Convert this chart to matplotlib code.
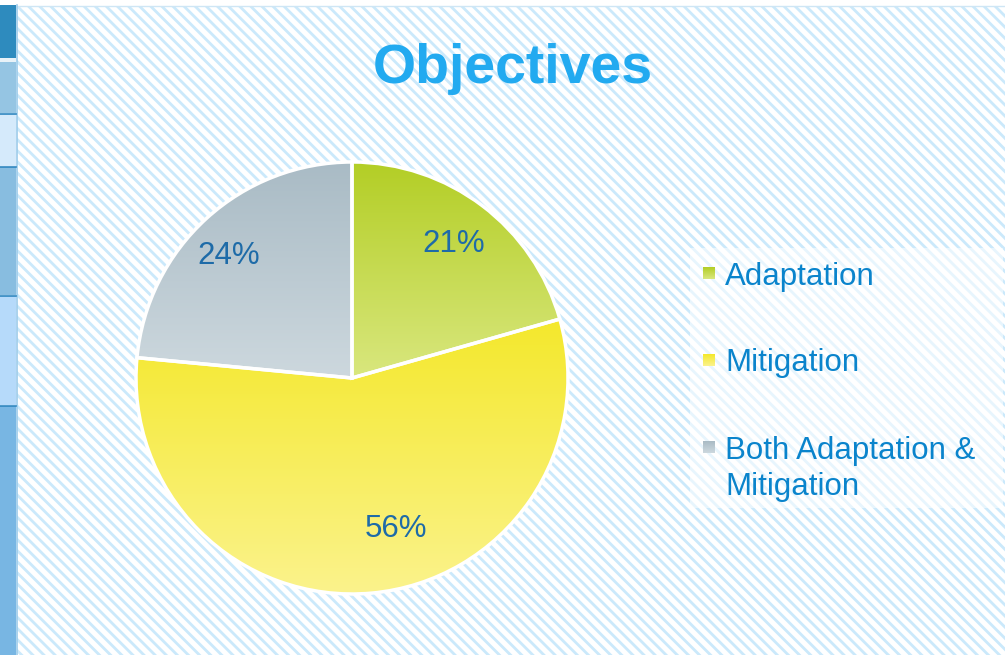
import numpy as np
import matplotlib
matplotlib.use("Agg")
import matplotlib.pyplot as plt
from matplotlib.patches import Rectangle
from matplotlib.colors import to_rgb

plt.rcParams['font.family'] = ['Liberation Sans', 'DejaVu Sans']
plt.rcParams['hatch.linewidth'] = 2.0

# data
categories = ["Adaptation", "Mitigation", "Both Adaptation &\nMitigation"]
shares = [20.6, 55.9, 23.5]
pct_labels = ["21%", "56%", "24%"]
grad_top = ["#B3CE25", "#F4E82C", "#A9BBC5"]
grad_bottom = ["#D9E77E", "#FBF38C", "#CDD8DE"]

W, H = 1005, 655
fig = plt.figure(figsize=(W / 100, H / 100), dpi=100)
fig.patch.set_facecolor("white")

# background layer in pixel coords
bg = fig.add_axes([0, 0, 1, 1], zorder=0)
bg.set_xlim(0, W)
bg.set_ylim(H, 0)
bg.axis("off")

bg.add_patch(Rectangle((17, 6), W - 17, H - 6, facecolor="white",
                       edgecolor="#CBE9FB", hatch="\\\\\\", linewidth=0))
bg.plot([17, W], [5.5, 5.5], color="#CFE6F5", lw=1)
bg.plot([16.5, 16.5], [5, H], color="#9CCBEA", lw=1.2)

# left strip
strip = [(5, 58, "#2E8BBE"), (58, 62, "#E8F2F8"), (62, 113, "#95C5E3"),
         (114, 166, "#D5EAFB"), (167, 295, "#88BDE0"), (296, 405, "#B6DAFA"),
         (406, 655, "#78B6E3")]
for y0, y1, c in strip:
    bg.add_patch(Rectangle((0, y0), 16, y1 - y0, facecolor=c, linewidth=0))
for yl in [113.5, 166.5, 295.5, 405.5]:
    bg.plot([0, 16], [yl, yl], color="#2E86C0", lw=1.2)

# legend box + entries
bg.add_patch(Rectangle((690, 248), 313, 260, facecolor="white", alpha=0.55, linewidth=0))
leg_y = [273, 360, 447]
for i, lab in enumerate(categories):
    y = leg_y[i]
    grad = np.linspace(to_rgb(grad_top[i]), to_rgb(grad_bottom[i]), 32)[:, None, :]
    bg.imshow(grad, extent=[703, 715, y + 6, y - 6], aspect="auto", zorder=3)
    lines = lab.split("\n")
    for k, line in enumerate(lines):
        bg.text(725, y + 36 * k, line, fontsize=22.5, color="#0A84CC",
                va="center_baseline", ha="left")
bg.set_xlim(0, W)
bg.set_ylim(H, 0)

# title
fig.text(513 / W, 1 - 63 / H, "Objectives", fontsize=40, fontweight="bold",
         color="#22AAF0", ha="center", va="center_baseline")

# pie
cx, cy, r = 352, 378, 216
half = 1.05 * r
ax = fig.add_axes([(cx - half) / W, (H - cy - half) / H, 2 * half / W, 2 * half / H], zorder=2)
wedges, texts, autotexts = ax.pie(shares, startangle=90, counterclock=False,
                                  colors=grad_top, autopct="%.0f%%", pctdistance=0.78,
                                  wedgeprops=dict(edgecolor="white", linewidth=2.5),
                                  textprops=dict(fontsize=22.5, color="#1E6BA8"))
for w, t0, t1 in zip(wedges, grad_top, grad_bottom):
    ext = w.get_path().get_extents()
    grad = np.linspace(to_rgb(t0), to_rgb(t1), 256)[:, None, :]
    im = ax.imshow(grad, extent=[ext.x0, ext.x1, ext.y0, ext.y1], aspect="auto", zorder=1)
    im.set_clip_path(w)
    w.set_facecolor("none")
    w.set_zorder(2)
for t, s in zip(autotexts, pct_labels):
    t.set_text(s)
    t.set_zorder(3)
# label nudges: 56% sits right of the slice middle, 24% a bit lower
x, y = autotexts[1].get_position()
ang = np.arctan2(y, x) + np.radians(11)
autotexts[1].set_position((0.73 * np.cos(ang), 0.73 * np.sin(ang)))
x, y = autotexts[2].get_position()
ang = np.arctan2(y, x) + np.radians(3)
autotexts[2].set_position((0.8 * np.cos(ang), 0.8 * np.sin(ang)))

ax.set_xlim(-1.05, 1.05)
ax.set_ylim(-1.05, 1.05)
ax.set_aspect("equal")
ax.axis("off")

fig.savefig("out.png", dpi=100)
